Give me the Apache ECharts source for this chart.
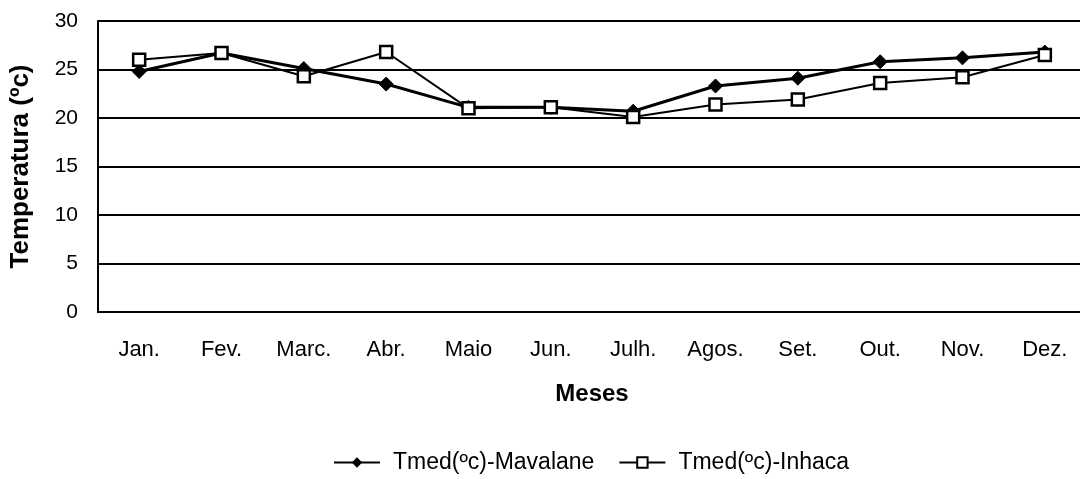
<!DOCTYPE html>
<html>
<head>
<meta charset="utf-8">
<script src="https://cdn.jsdelivr.net/npm/echarts@6/dist/echarts.min.js"></script>
<style>
html,body{margin:0;padding:0;background:#fff;overflow:hidden;}
#chart{width:1086px;height:479px;}
</style>
</head>
<body>
<div id="chart"></div>
<script>
var months = ['Jan.', 'Fev.', 'Marc.', 'Abr.', 'Maio', 'Jun.', 'Julh.', 'Agos.', 'Set.', 'Out.', 'Nov.', 'Dez.'];
var mavalane = [24.8, 26.7, 25.1, 23.5, 21.1, 21.1, 20.7, 23.3, 24.1, 25.8, 26.2, 26.8];
var inhaca = [26.0, 26.7, 24.3, 26.8, 21.0, 21.1, 20.1, 21.4, 21.9, 23.6, 24.2, 26.5];
var yTicks = [0, 5, 10, 15, 20, 25, 30];

var font = '"Liberation Sans", Arial, sans-serif';
var chart = echarts.init(document.getElementById('chart'));
chart.setOption({
  animation: false,
  backgroundColor: '#fff',
  grid: {left: 97, top: 21, right: 0, bottom: 167, containLabel: false},
  legend: {
    bottom: 0,
    left: 328,
    itemWidth: 46,
    itemHeight: 13,
    itemGap: 24,
    textStyle: {fontFamily: font, fontSize: 23, color: '#000', padding: [0, 0, 0, 8]},
    data: ['Tmed(ºc)-Mavalane', 'Tmed(ºc)-Inhaca']
  },
  xAxis: {
    type: 'category',
    data: months,
    boundaryGap: true,
    name: 'Meses',
    nameLocation: 'middle',
    nameGap: 70,
    nameTextStyle: {fontFamily: font, fontSize: 24, fontWeight: 'bold', color: '#000'},
    axisLine: {lineStyle: {color: '#000', width: 2}},
    axisTick: {show: false},
    axisLabel: {fontFamily: font, fontSize: 22, color: '#000', margin: 27}
  },
  yAxis: {
    type: 'value',
    min: yTicks[0],
    max: yTicks[yTicks.length - 1],
    interval: 5,
    name: 'Temperatura (ºc)',
    nameLocation: 'middle',
    nameGap: 64,
    nameTextStyle: {fontFamily: font, fontSize: 26, fontWeight: 'bold', color: '#000'},
    axisLine: {show: true, lineStyle: {color: '#000', width: 2}},
    axisTick: {show: false},
    axisLabel: {fontFamily: font, fontSize: 21, color: '#000', margin: 20},
    splitLine: {show: true, lineStyle: {color: '#000', width: 1.8}}
  },
  series: [
    {
      name: 'Tmed(ºc)-Mavalane',
      type: 'line',
      data: mavalane,
      symbol: 'diamond',
      symbolSize: 14,
      lineStyle: {color: '#000', width: 3},
      itemStyle: {color: '#000', borderColor: '#000'},
      z: 3
    },
    {
      name: 'Tmed(ºc)-Inhaca',
      type: 'line',
      data: inhaca,
      symbol: 'rect',
      symbolSize: 12,
      showAllSymbol: true,
      lineStyle: {color: '#000', width: 2},
      itemStyle: {color: '#fff', borderColor: '#000', borderWidth: 2.5},
      z: 4
    }
  ]
});
</script>
</body>
</html>
